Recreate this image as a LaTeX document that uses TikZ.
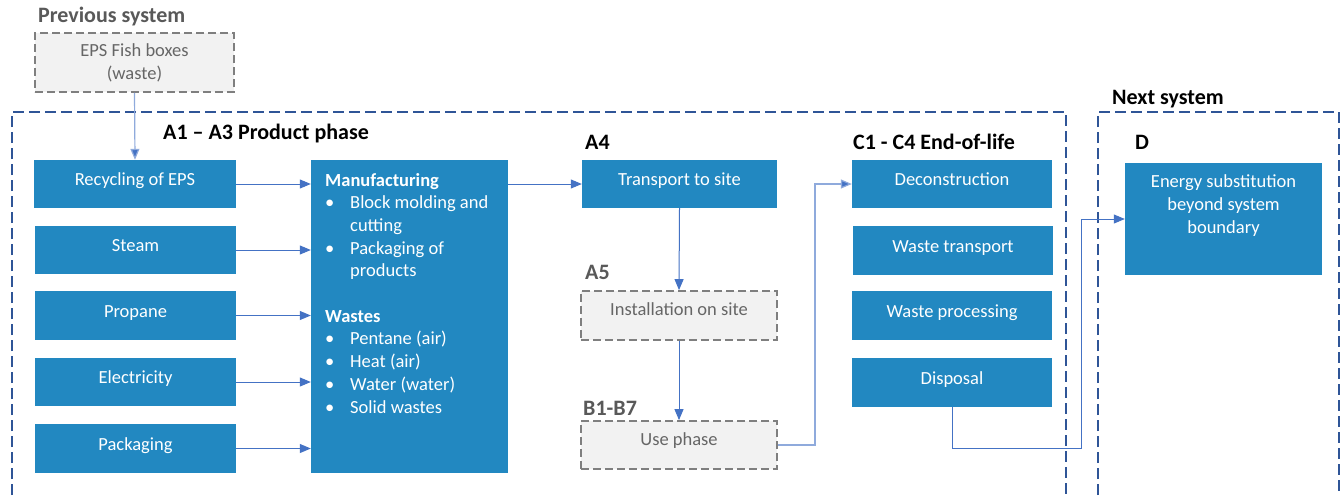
\documentclass[tikz,border=0pt]{standalone}
\usepackage{fontspec}
\setmainfont{Carlito}
\usetikzlibrary{arrows.meta}
\definecolor{boxblue}{HTML}{2288C1}
\definecolor{bndblue}{HTML}{2F5597}
\definecolor{arrblue}{HTML}{4472C4}
\definecolor{arrlight}{HTML}{8FAADC}
\definecolor{graybg}{HTML}{F2F2F2}
\definecolor{grayline}{HTML}{7F7F7F}
\definecolor{graytext}{HTML}{666666}
\definecolor{labgray}{HTML}{595959}
\begin{document}
\begin{tikzpicture}[x=1pt,y=-1pt,
  bbox/.style={fill=boxblue,draw=none,text=white,inner sep=0pt,align=center,
    font=\fontsize{18.5}{23}\selectfont},
  gbox/.style={fill=graybg,draw=grayline,line width=1.8pt,dash pattern=on 8pt off 4pt,
    text=graytext,inner sep=0pt,align=center,font=\fontsize{18.5}{23}\selectfont},
  raised/.style={text height=13pt,text depth=10pt},
  raisedmore/.style={text height=13pt,text depth=13pt},
  bound/.style={draw=bndblue,line width=1.6pt,dash pattern=on 11pt off 5pt},
  arr/.style={draw=arrblue,line width=1pt,-{Triangle[length=11pt,width=9pt]}},
  arrl/.style={draw=arrlight,line width=1.2pt,-{Triangle[length=11pt,width=9pt,fill=arrblue]}},
  head/.style={anchor=base west,inner sep=0pt,font=\fontsize{22}{26}\selectfont\bfseries},
]
\useasboundingbox (0,0) rectangle (1343,495);
\fill[white] (0,0) rectangle (1343,495);

% boundaries
\draw[bound] (12,495) -- (12,112) -- (1066,112) -- (1066,495);
\draw[bound] (1098,495) -- (1098,112) -- (1339,112) -- (1339,495);

% headings
\node[head,text=labgray] (hprev) at (38,23) {Previous system};
\node[head] (hnext) at (1112,104) {Next system};
\node[head] (ha13) at (163,139) {A1 -- A3 Product phase};
\node[head] (ha4) at (585,149) {A4};
\node[head,text=labgray] (ha5) at (585,279) {A5};
\node[head,text=labgray] (hb) at (583,415) {B1-B7};
\node[head] (hc) at (853,149) {C1 - C4 End-of-life};
\node[head] (hd) at (1135,149) {D};

% previous system
\node[gbox,minimum width=199pt,minimum height=59pt] (fish) at (134.5,62.5) {EPS Fish boxes\\(waste)};

% inputs
\node[bbox,raised,minimum width=202pt,minimum height=48pt] (rec) at (135,184) {Recycling of EPS};
\node[bbox,raised,minimum width=201pt,minimum height=48pt] (steam) at (135.5,250) {Steam};
\node[bbox,raised,minimum width=201pt,minimum height=49pt] (prop) at (135.5,315.5) {Propane};
\node[bbox,raised,minimum width=201pt,minimum height=48pt] (elec) at (135.5,382) {Electricity};
\node[bbox,raised,minimum width=201pt,minimum height=49pt] (pack) at (135.5,448.5) {Packaging};

% manufacturing
\node[bbox,minimum width=197pt,minimum height=313pt] (manuf) at (409.5,316.5) {};
\node[anchor=north west,inner sep=0pt,text=white] (mtext) at (325,170)
 {\fontsize{18.5}{22.7}\selectfont
  \begin{tabular}{@{}p{25pt}@{}l@{}}
  \multicolumn{2}{@{}l@{}}{\bfseries Manufacturing}\\
  \textbullet & Block molding and\\
   & cutting\\
  \textbullet & Packaging of\\
   & products\\
   & \\
  \multicolumn{2}{@{}l@{}}{\bfseries Wastes}\\
  \textbullet & Pentane (air)\\
  \textbullet & Heat (air)\\
  \textbullet & Water (water)\\
  \textbullet & Solid wastes
  \end{tabular}};

% A4, A5, B
\node[bbox,raised,minimum width=195pt,minimum height=48pt] (trans) at (679.5,184) {Transport to site};
\node[gbox,raisedmore,minimum width=196pt,minimum height=49pt] (inst) at (679,315.5) {Installation on site};
\node[gbox,raisedmore,minimum width=196pt,minimum height=48pt] (use) at (679,445) {Use phase};

% C
\node[bbox,raised,minimum width=200pt,minimum height=48pt] (decon) at (952,184) {Deconstruction};
\node[bbox,raised,minimum width=200pt,minimum height=49pt] (wtrans) at (953,250.5) {Waste transport};
\node[bbox,raised,minimum width=200pt,minimum height=49pt] (wproc) at (952,315.5) {Waste processing};
\node[bbox,raised,minimum width=200pt,minimum height=49pt] (disp) at (952,382.5) {Disposal};

% D
\node[bbox,minimum width=197pt,minimum height=112pt] (energy) at (1223.5,219) {};
\node[anchor=north,inner sep=0pt,text=white,align=center,font=\fontsize{18.5}{23}\selectfont] (etext) at (1223.5,174) {Energy substitution\\beyond system\\boundary};

% connectors
\draw[arrl] (fish.south) -- (rec.north);
\draw[arr] (rec.east) -- (rec.east -| manuf.west);
\draw[arr] (steam.east) -- (steam.east -| manuf.west);
\draw[arr] (prop.east) -- (prop.east -| manuf.west);
\draw[arr] (elec.east) -- (elec.east -| manuf.west);
\draw[arr] (pack.east) -- (pack.east -| manuf.west);
\draw[arr] (trans.west -| manuf.east) -- (trans.west);
\draw[arr] (trans.south) -- (inst.north);
\draw[arr] (inst.south) -- (use.north);
\coordinate (j1) at (815,445);
\draw[arrl] (use.east) -- (j1) |- (decon.west);
\coordinate (j2) at (1081,448);
\draw[arr] (disp.south) |- (j2) |- (energy.west);
\end{tikzpicture}
\end{document}
